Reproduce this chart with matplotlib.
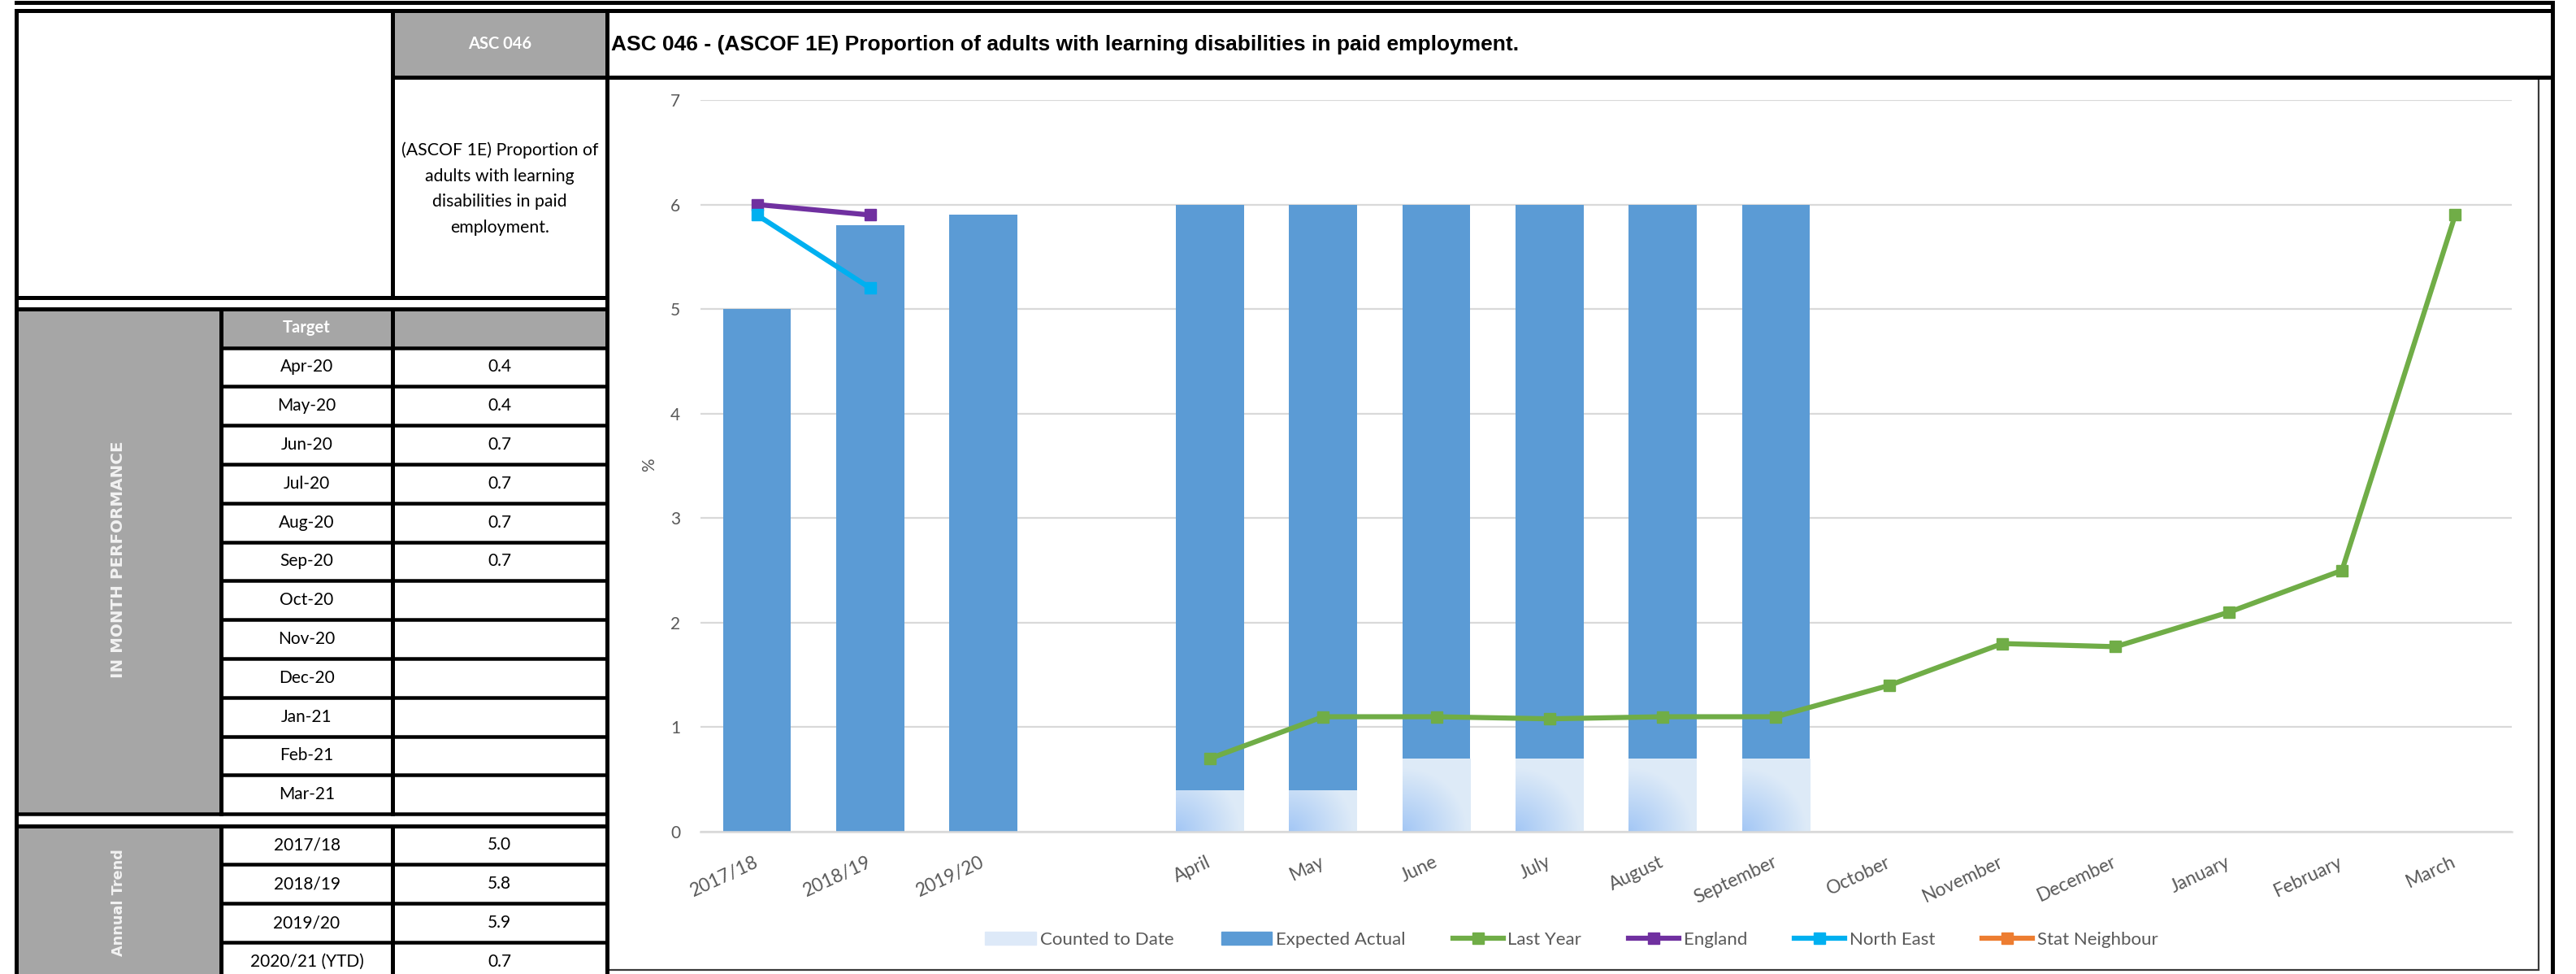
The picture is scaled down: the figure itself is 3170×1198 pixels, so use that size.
import numpy as np
import matplotlib.pyplot as plt
from matplotlib.patches import Rectangle, Patch
from matplotlib.lines import Line2D

plt.rcParams['font.family'] = ['Lato', 'DejaVu Sans']

nan = np.nan

# chart data
categories = ['2017/18', '2018/19', '2019/20', '', 'April', 'May', 'June', 'July',
              'August', 'September', 'October', 'November', 'December', 'January',
              'February', 'March']
counted_to_date = [0, 0, 0, 0, 0.4, 0.4, 0.7, 0.7, 0.7, 0.7, 0, 0, 0, 0, 0, 0]
expected_actual = [5.0, 5.8, 5.9, 0, 5.6, 5.6, 5.3, 5.3, 5.3, 5.3, 0, 0, 0, 0, 0, 0]
last_year = [nan, nan, nan, nan, 0.7, 1.1, 1.1, 1.08, 1.1, 1.1, 1.4, 1.8, 1.77, 2.1, 2.5, 5.9]
england = [6.0, 5.9] + [nan] * 14
north_east = [5.9, 5.2] + [nan] * 14
stat_neighbour = [nan] * 16

# table data
kpi_code = 'ASC 046'
kpi_desc = ['(ASCOF 1E) Proportion of', 'adults with learning',
            'disabilities in paid', 'employment.']
title = 'ASC 046 - (ASCOF 1E) Proportion of adults with learning disabilities in paid employment.'
months = ['Apr-20', 'May-20', 'Jun-20', 'Jul-20', 'Aug-20', 'Sep-20',
          'Oct-20', 'Nov-20', 'Dec-20', 'Jan-21', 'Feb-21', 'Mar-21']
month_targets = [0.4, 0.4, 0.7, 0.7, 0.7, 0.7, None, None, None, None, None, None]
annual_years = ['2017/18', '2018/19', '2019/20', '2020/21 (YTD)']
annual_values = [5.0, 5.8, 5.9, 0.7]

W, H = 3170, 1198
PX = 0.72  # points per pixel at 100 dpi
GREY = '#A6A6A6'
TXT = '#595959'
FS_TAB = 15

fig = plt.figure(figsize=(W / 100, H / 100), dpi=100)
bg = fig.add_axes([0, 0, 1, 1])
bg.set_xlim(0, W)
bg.set_ylim(H, 0)
bg.axis('off')


def line(x0, y0, x1, y1, w=5, c='black', z=5):
    bg.plot([x0, x1], [y0, y1], color=c, lw=w * PX, solid_capstyle='projecting', zorder=z)


def box(x0, y0, x1, y1, c=GREY):
    bg.add_patch(Rectangle((x0, y0), x1 - x0, y1 - y0, fc=c, lw=0, zorder=1))


# column / row positions of the sheet (pixels)
xL, xC1, xC2, xR, xFR = 19.5, 272, 483, 746.5, 3141
row0, pitch = 427.5, 47.8
ann0 = 1015.5
mon_end = row0 + pitch * len(months)

# grey cells
box(xC2, 12.5, xR, 94.5)
box(xL, 379.5, xR, row0)
box(xL, 379.5, xC1, mon_end)
box(xL, ann0, xC1, H)

# frame lines
line(xL, 2.5, xFR, 2.5)
line(xL, 12.5, xFR, 12.5)
line(xC2, 94.5, xFR, 94.5)
line(xL, 366, xR, 366)
line(xL, 379.5, xR, 379.5)
line(xL, 12.5, xL, H)
line(xR, 12.5, xR, H)
line(xFR, 2.5, xFR, H)
line(xC2, 12.5, xC2, 366)
line(xC1, 379.5, xC1, mon_end)
line(xC2, 379.5, xC2, mon_end)
line(xC1, ann0, xC1, H)
line(xC2, ann0, xC2, H)
for i in range(len(months) + 1):
    y = row0 + pitch * i
    line(xL if i == len(months) else xC1, y, xR, y, w=4.5)
line(xL, ann0, xR, ann0)
for j in range(1, len(annual_years)):
    y = ann0 + pitch * j
    line(xC1, y, xR, y, w=4.5)

# chart frame
bg.add_patch(Rectangle((748, 97), 3124 - 748, 1193 - 97, fill=False,
                       ec='#3a3a3a', lw=2.2 * PX, zorder=4))

# table text
bg.text((xC2 + xR) / 2, 54, kpi_code, ha='center', va='center', fontsize=14.5,
        fontweight='bold', color='white')
for k, s in enumerate(kpi_desc):
    bg.text((xC2 + xR) / 2, 185 + 31.7 * k, s, ha='center', va='center', fontsize=15.3)
bg.text((xC1 + xC2) / 2, 403, 'Target', ha='center', va='center', fontsize=14.5,
        fontweight='bold', color='white')
for i, (m, v) in enumerate(zip(months, month_targets)):
    y = row0 + pitch * (i + 0.5)
    bg.text((xC1 + xC2) / 2, y, m, ha='center', va='center', fontsize=FS_TAB)
    if v is not None:
        bg.text((xC2 + xR) / 2, y, f'{v:.1f}', ha='center', va='center', fontsize=FS_TAB)
for j, (yr, v) in enumerate(zip(annual_years, annual_values)):
    y = ann0 + pitch * (j + 0.5)
    bg.text((xC1 + xC2) / 2, y, yr, ha='center', va='center', fontsize=FS_TAB)
    bg.text((xC2 + xR) / 2, y, f'{v:.1f}', ha='center', va='center', fontsize=FS_TAB)
bg.text((xL + xC1) / 2, 688, 'IN MONTH PERFORMANCE', rotation=90, ha='center',
        va='center', fontsize=14.3, fontweight='bold', color='#F2F2F2',
        family=['DejaVu Sans'])
bg.text((xL + xC1) / 2, 1110, 'Annual Trend', rotation=90, ha='center',
        va='center', fontsize=12.7, fontweight='bold', color='#F2F2F2',
        family=['DejaVu Sans'])

bg.text(752, 55, title, ha='left', va='center', fontsize=19, fontweight='bold',
        family=['Liberation Sans'])
bg.text(799, 572, '%', rotation=90, ha='center', va='center', fontsize=15, color=TXT)

# chart
ax = fig.add_axes([862 / W, 1 - 1023 / H, (3091 - 862) / W, (1023 - 123) / H])
x = np.arange(len(categories))
bars_c = ax.bar(x, counted_to_date, 0.6, color='#DDE9F8', zorder=2)
ax.bar(x, expected_actual, 0.6, bottom=counted_to_date, color='#5B9BD5', zorder=2)

# soft gradient on the "counted to date" bars
blue = np.array([0.64, 0.78, 0.96])
light = np.array([0.87, 0.92, 0.97])
for rect, v in zip(bars_c, counted_to_date):
    if v <= 0:
        continue
    gx, gy = np.meshgrid(np.linspace(0, 83, 40), np.linspace(0, v * 128.6, 40))
    t = np.clip(np.hypot(gx, gy) / 80, 0, 1)[..., None]
    img = blue * (1 - t) + light * t
    im = ax.imshow(img, extent=(rect.get_x(), rect.get_x() + rect.get_width(), 0, v),
                   origin='lower', aspect='auto', zorder=2.5, interpolation='bilinear')
    im.set_clip_path(rect)

series = [(last_year, '#70AD47', 'Last Year'), (england, '#7030A0', 'England'),
          (north_east, '#00B0F0', 'North East'), (stat_neighbour, '#ED7D31', 'Stat Neighbour')]
for vals, col, lab in series:
    ax.plot(x, vals, color=col, lw=4.5, marker='s', ms=10.5, zorder=4)

ax.set_xlim(-0.5, len(categories) - 0.5)
ax.set_ylim(0, 7)
ax.set_yticks(range(8))
ax.yaxis.grid(True, color='#D9D9D9', lw=1.6)
ax.set_axisbelow(True)
for s in ['top', 'right', 'left']:
    ax.spines[s].set_visible(False)
ax.spines['bottom'].set_color('#D9D9D9')
ax.spines['bottom'].set_linewidth(1.8)
ax.set_xticks(x)
ax.set_xticklabels(categories, rotation=25, ha='right', va='center',
                   rotation_mode='anchor', fontsize=16.5, color=TXT)
ax.tick_params(axis='x', length=0, pad=26)
ax.tick_params(axis='y', length=0, pad=18, labelsize=15, labelcolor=TXT)

handles = [Patch(color='#DDE9F8'), Patch(color='#5B9BD5')]
for vals, col, lab in series:
    handles.append(Line2D([], [], color=col, lw=4.5, marker='s', ms=10.5))
labels = ['Counted to Date', 'Expected Actual'] + [s[2] for s in series]
fig.legend(handles, labels, loc='center', bbox_to_anchor=(1934 / W, 1 - 1156 / H),
           ncol=6, frameon=False, fontsize=16, handlelength=2.8,
           handletextpad=0.25, columnspacing=2.6, labelcolor=TXT)

fig.savefig('out.png', dpi=100)
